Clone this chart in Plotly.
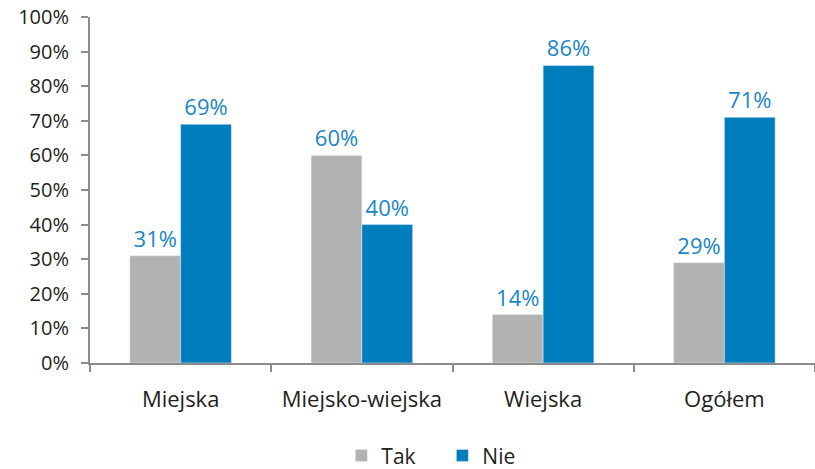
import plotly.graph_objects as go

categories = ["Miejska", "Miejsko-wiejska", "Wiejska", "Ogółem"]
tak = [31, 60, 14, 29]
nie = [69, 40, 86, 71]
y_ticks = list(range(0, 101, 10))
y_tick_labels = [f"{v}%" for v in y_ticks]

font = "Open Sans, DejaVu Sans, sans-serif"
label_color = "#1a86c4"
axis_color = "#8c8c8c"

fig = go.Figure()
fig.add_trace(go.Bar(name="Tak", x=categories, y=tak, marker_color="#b2b2b2",
                     text=[f"{v}%" for v in tak], textposition="outside",
                     textfont=dict(color=label_color, size=22, family=font),
                     cliponaxis=False))
fig.add_trace(go.Bar(name="Nie", x=categories, y=nie, marker_color="#007dbc",
                     text=[f"{v}%" for v in nie], textposition="outside",
                     textfont=dict(color=label_color, size=22, family=font),
                     cliponaxis=False))

fig.update_layout(
    width=815, height=469,
    margin=dict(l=90, r=0, t=17, b=106, autoexpand=False),
    barmode="group", bargap=0.44, bargroupgap=0,
    plot_bgcolor="white", paper_bgcolor="white",
    font=dict(family=font, size=20, color="#231f20"),
    showlegend=True,
    legend=dict(orientation="h", x=0.486, xanchor="center", y=-0.268, yanchor="middle",
                font=dict(size=21), itemwidth=30, traceorder="normal",
                entrywidth=56, entrywidthmode="pixels"),
    uniformtext=dict(minsize=22, mode="show"),
)
fig.update_xaxes(showline=True, linecolor=axis_color, linewidth=2, automargin=False,
                 ticks="outside", tickson="boundaries", ticklen=7, tickcolor=axis_color,
                 tickwidth=2, ticklabelstandoff=16, tickfont=dict(size=22))
fig.update_yaxes(range=[0, 100], tickvals=y_ticks, ticktext=y_tick_labels, automargin=False,
                 showline=True, linecolor=axis_color, linewidth=2,
                 ticks="outside", ticklen=7, tickcolor=axis_color, tickwidth=2,
                 showgrid=False, zeroline=False, ticklabelstandoff=8,
                 tickfont=dict(size=20))

fig.write_html(
    "out.html",
    config={"displayModeBar": False},
    post_script=(
        "document.body.style.margin='0';"
        "document.body.style.overflow='hidden';"
    ),
)
